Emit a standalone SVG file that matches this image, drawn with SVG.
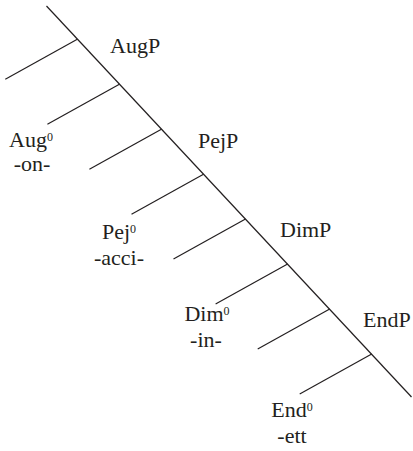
<svg xmlns="http://www.w3.org/2000/svg" width="413" height="451" viewBox="0 0 413 451">
<style>
.l{stroke:#231f20;stroke-width:1.2;fill:none;stroke-linecap:butt}
.t{font-size:22px;fill:#231f20}
.h{text-anchor:middle}
.s{font-size:12px}
</style>
<rect width="413" height="451" fill="#fff"/>
<g id="connectors">
<line class="l" x1="46.5" y1="6" x2="411.5" y2="397"/>
<line class="l" x1="77.3" y1="39.3" x2="5.3" y2="79.3"/>
<line class="l" x1="119.4" y1="84.3" x2="47.4" y2="124.3"/>
<line class="l" x1="161.4" y1="129.2" x2="89.4" y2="169.2"/>
<line class="l" x1="203.5" y1="174.2" x2="131.5" y2="214.2"/>
<line class="l" x1="245.5" y1="219.1" x2="173.5" y2="259.1"/>
<line class="l" x1="287.6" y1="264.1" x2="215.6" y2="304.1"/>
<line class="l" x1="329.7" y1="309.1" x2="257.7" y2="349.1"/>
<line class="l" x1="371.7" y1="354" x2="299.7" y2="394"/>
</g>
<g font-family="'Liberation Serif', serif">
<g id="AugP"><text class="t" x="110" y="53">AugP</text></g>
<g id="PejP"><text class="t" x="198" y="148">PejP</text></g>
<g id="DimP"><text class="t" x="280" y="237">DimP</text></g>
<g id="EndP"><text class="t" x="363" y="327">EndP</text></g>
<g id="Aug0"><text class="t h" x="31" y="147">Aug<tspan class="s" dy="-6">0</tspan></text><text class="t h" x="32" y="171">-on-</text></g>
<g id="Pej0"><text class="t h" x="119" y="239">Pej<tspan class="s" dy="-6">0</tspan></text><text class="t h" x="119" y="265">-acci-</text></g>
<g id="Dim0"><text class="t h" x="207" y="321">Dim<tspan class="s" dy="-6">0</tspan></text><text class="t h" x="206" y="347">-in-</text></g>
<g id="End0"><text class="t h" x="292" y="417">End<tspan class="s" dy="-6">0</tspan></text><text class="t h" x="292" y="443">-ett</text></g>
</g>
</svg>
